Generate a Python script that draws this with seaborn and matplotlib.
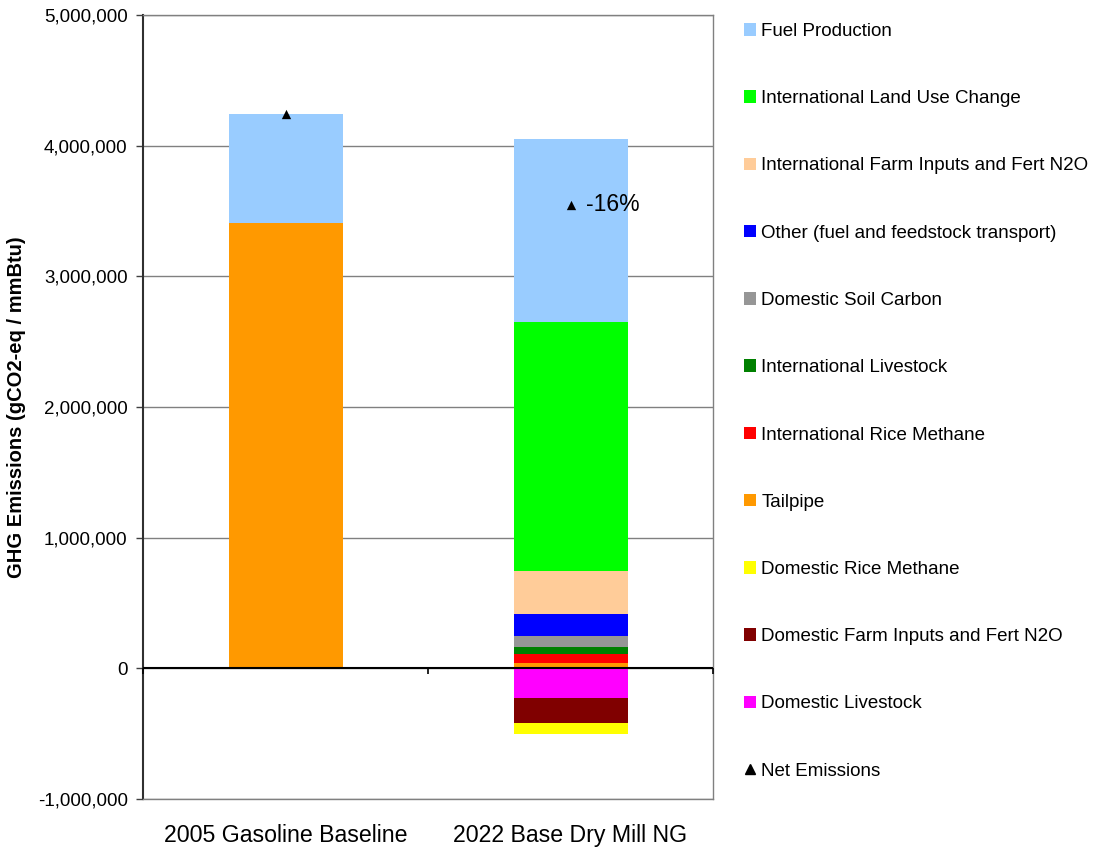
import matplotlib
matplotlib.use("Agg")
import matplotlib.pyplot as plt
from matplotlib.patches import Patch
from matplotlib.lines import Line2D
from matplotlib.ticker import FuncFormatter
import numpy as np
import pandas as pd
import seaborn as sns

# ---------------- data ----------------
categories = ["2005 Gasoline Baseline", "2022 Base Dry Mill NG"]

# stacking order (bottom -> top for positives; from zero downward for negatives)
series_names = [
    "Domestic Livestock",
    "Domestic Farm Inputs and Fert N2O",
    "Domestic Rice Methane",
    "Tailpipe",
    "International Rice Methane",
    "International Livestock",
    "Domestic Soil Carbon",
    "Other (fuel and feedstock transport)",
    "International Farm Inputs and Fert N2O",
    "International Land Use Change",
    "Fuel Production",
]
domestic_livestock = [0, -229000]
domestic_farm = [0, -191000]
domestic_rice = [0, -84000]
tailpipe = [3411000, 38000]
intl_rice = [0, 69000]
intl_livestock = [0, 54000]
domestic_soil = [0, 84000]
other_transport = [0, 168000]
intl_farm = [0, 329000]
intl_luc = [0, 1905000]
fuel_production = [834000, 1407000]
net_emissions = [4245000, 3549000]

series_values = [domestic_livestock, domestic_farm, domestic_rice, tailpipe,
                 intl_rice, intl_livestock, domestic_soil, other_transport,
                 intl_farm, intl_luc, fuel_production]
series_colors = ["#FF00FF", "#800000", "#FFFF00", "#FF9900", "#FF0000",
                 "#008000", "#969696", "#0000FF", "#FFCC99", "#00FF00", "#99CCFF"]

y_ticks = [-1000000, 0, 1000000, 2000000, 3000000, 4000000, 5000000]

# ---------------- style ----------------
sns.set_style("white")
plt.rcParams["font.family"] = ["Liberation Sans", "DejaVu Sans"]
plt.rcParams["text.color"] = "black"
plt.rcParams["axes.labelcolor"] = "black"
plt.rcParams["xtick.color"] = "black"
plt.rcParams["ytick.color"] = "black"

fig = plt.figure(figsize=(10.99, 8.5), dpi=100)
ax = fig.add_axes([143 / 1099, 1 - 799 / 850, (713 - 143) / 1099, (799 - 15) / 850])

df = pd.DataFrame({name: vals for name, vals in zip(series_names, series_values)})
df["category"] = categories

neg_names = series_names[:3]
pos_names = series_names[3:]

# positive stack: cumulative sums, draw tallest first
pos_cum = df[pos_names].cumsum(axis=1)
for name in reversed(pos_names):
    color = series_colors[series_names.index(name)]
    sns.barplot(x=df["category"], y=pos_cum[name], color=color, width=0.4,
                saturation=1, linewidth=0, ax=ax, zorder=3, order=categories)

# negative stack
neg_cum = df[neg_names].cumsum(axis=1)
for name in reversed(neg_names):
    color = series_colors[series_names.index(name)]
    sns.barplot(x=df["category"], y=neg_cum[name], color=color, width=0.4,
                saturation=1, linewidth=0, ax=ax, zorder=3, order=categories)

# net emissions markers
sns.scatterplot(x=categories, y=net_emissions, marker="^", color="black",
                s=45, linewidth=0, ax=ax, zorder=6, legend=False)

pct = (net_emissions[1] / net_emissions[0] - 1) * 100
ax.annotate(f"{pct:.0f}%", xy=(categories[1], net_emissions[1]),
            xytext=(11, 0), textcoords="offset points",
            ha="left", va="center", fontsize=16.5, zorder=7)

# axes
ax.set_xlim(-0.5, 1.5)
ax.set_ylim(-1000000, 5000000)
ax.set_yticks(y_ticks)
ax.yaxis.set_major_formatter(FuncFormatter(lambda v, p: f"{v:,.0f}"))
ax.grid(axis="y", color="#808080", linewidth=1, zorder=0)
ax.grid(axis="x", visible=False)
ax.set_axisbelow(True)
ax.axhline(0, color="black", linewidth=1.5, zorder=4)
ax.vlines([-0.5, 0.5, 1.5], -45000, 0, color="black", linewidth=1.2, zorder=4,
          clip_on=False)

ax.tick_params(axis="y", left=True, length=5, width=1, color="#404040",
               labelsize=13.5, pad=6)
ax.tick_params(axis="x", bottom=False, length=0, labelsize=16.7, pad=18)
ax.set_xlabel("")
ax.set_ylabel("GHG Emissions (gCO2-eq / mmBtu)", fontsize=14.5,
              fontweight="bold")
ax.yaxis.set_label_coords(-(143 - 26) / 570, 0.5)

for side in ["top", "right", "bottom"]:
    ax.spines[side].set_color("#808080")
    ax.spines[side].set_linewidth(1)
ax.spines["left"].set_color("#303030")
ax.spines["left"].set_linewidth(1.5)

# legend
handles = []
for name in reversed(series_names):
    handles.append(Patch(facecolor=series_colors[series_names.index(name)],
                         edgecolor="none", label=name))
handles.append(Line2D([], [], marker="^", color="black", linestyle="none",
                      markersize=7, label="Net Emissions"))
fig.legend(handles=handles, loc="upper left", bbox_to_anchor=(744 / 1099, 1 - 23 / 850),
           frameon=False, fontsize=13.5, handlelength=0.65, handleheight=0.65,
           handletextpad=0.27, labelspacing=2.68, borderaxespad=0, borderpad=0)

fig.savefig("out.png", dpi=100)
